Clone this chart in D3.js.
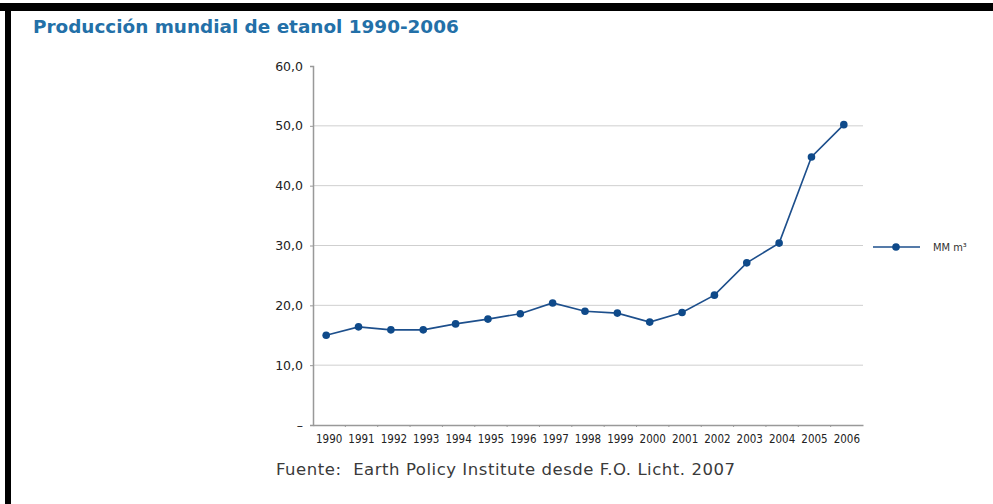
<!DOCTYPE html>
<html>
<head>
<meta charset="utf-8">
<script src="https://cdn.jsdelivr.net/npm/d3@7"></script>
<style>
  body { margin: 0; background: #fff; }
  svg { display: block; }
</style>
</head>
<body>
<div id="chart"></div>
<script>
const years = ['1990','1991','1992','1993','1994','1995','1996','1997','1998',
               '1999','2000','2001','2002','2003','2004','2005','2006'];
const production = [15.0, 16.4, 15.9, 15.9, 16.9, 17.7, 18.6, 20.4, 19.0,
                    18.7, 17.2, 18.8, 21.7, 27.1, 30.4, 44.8, 50.2];
const yTicks = [0, 10, 20, 30, 40, 50, 60];
const seriesName = 'MM m³';

const width = 993, height = 504;
const margin = { top: 66, right: 130, bottom: 79, left: 313 };
const innerW = width - margin.left - margin.right;
const innerH = height - margin.top - margin.bottom;

const svg = d3.select('#chart').append('svg')
  .attr('width', width)
  .attr('height', height);

// frame (black bars top and left)
svg.append('rect').attr('x', 0).attr('y', 3).attr('width', width).attr('height', 8).attr('fill', '#000');
svg.append('rect').attr('x', 5).attr('y', 3).attr('width', 6).attr('height', height).attr('fill', '#000');

svg.append('text')
  .attr('x', 33).attr('y', 33)
  .attr('font-family', 'DejaVu Sans, sans-serif')
  .attr('font-weight', 'bold')
  .attr('font-size', 18.4)
  .attr('fill', '#2370a8')
  .text('Producción mundial de etanol 1990-2006');

const g = svg.append('g').attr('transform', `translate(${margin.left},${margin.top})`);

const x = d3.scaleBand().domain(years).range([0, innerW]);
const y = d3.scaleLinear().domain([0, 60]).range([innerH, 0]);
const cx = d => x(d) + x.bandwidth() / 2 - 3;

// grid
g.append('g').selectAll('line')
  .data(yTicks.filter(t => t > 0 && t < 60))
  .join('line')
  .attr('x1', 0).attr('x2', innerW)
  .attr('y1', d => y(d)).attr('y2', d => y(d))
  .attr('stroke', '#cfcfcf').attr('stroke-width', 1);

// y axis
const yAxis = g.append('g')
  .call(d3.axisLeft(y).tickValues(yTicks).tickSize(3).tickPadding(7)
    .tickFormat(d => d === 0 ? '–' : d3.format('.1f')(d).replace('.', ',')));
yAxis.select('.domain').attr('stroke', '#999').attr('stroke-width', 1.5);
yAxis.selectAll('.tick line').attr('stroke', '#999');
yAxis.selectAll('text')
  .attr('font-family', 'DejaVu Sans, sans-serif')
  .attr('font-size', 12.5)
  .attr('fill', '#222');

// x axis
const xAxis = g.append('g')
  .attr('transform', `translate(0,${innerH})`)
  .call(d3.axisBottom(x).tickSize(0).tickPadding(10));
xAxis.select('.domain').attr('stroke', '#999').attr('stroke-width', 1.5);
xAxis.selectAll('text')
  .attr('font-family', 'DejaVu Sans Condensed, DejaVu Sans, sans-serif')
  .attr('font-size', 11.5)
  .attr('fill', '#222');
g.append('g').selectAll('line')
  .data(years.slice(1))
  .join('line')
  .attr('x1', d => x(d)).attr('x2', d => x(d))
  .attr('y1', innerH).attr('y2', innerH + 2)
  .attr('stroke', '#999');

// series
const data = years.map((yr, i) => ({ year: yr, value: production[i] }));
const line = d3.line().x(d => cx(d.year)).y(d => y(d.value));

g.append('path')
  .datum(data)
  .attr('fill', 'none')
  .attr('stroke', '#1d4f8c')
  .attr('stroke-width', 1.6)
  .attr('d', line);

g.append('g').selectAll('circle')
  .data(data)
  .join('circle')
  .attr('cx', d => cx(d.year))
  .attr('cy', d => y(d.value))
  .attr('r', 3.8)
  .attr('fill', '#0f4a8a');

// legend
const lg = svg.append('g').attr('transform', 'translate(873,247)');
lg.append('line').attr('x1', 0).attr('x2', 47).attr('y1', 0).attr('y2', 0)
  .attr('stroke', '#1d4f8c').attr('stroke-width', 1.6);
lg.append('circle').attr('cx', 23).attr('cy', 0).attr('r', 3.8).attr('fill', '#0f4a8a');
lg.append('text')
  .attr('x', 60).attr('y', 4)
  .attr('font-family', 'DejaVu Sans Condensed, DejaVu Sans, sans-serif')
  .attr('font-size', 11)
  .attr('fill', '#333')
  .text(seriesName);

// source
svg.append('text')
  .attr('x', 276).attr('y', 475)
  .attr('font-family', 'DejaVu Sans, sans-serif')
  .attr('font-size', 16.5)
  .attr('fill', '#3a3a3a')
  .attr('textLength', 459)
  .attr('lengthAdjust', 'spacing')
  .attr('xml:space', 'preserve')
  .text('Fuente:  Earth Policy Institute desde F.O. Licht. 2007');
</script>
</body>
</html>
